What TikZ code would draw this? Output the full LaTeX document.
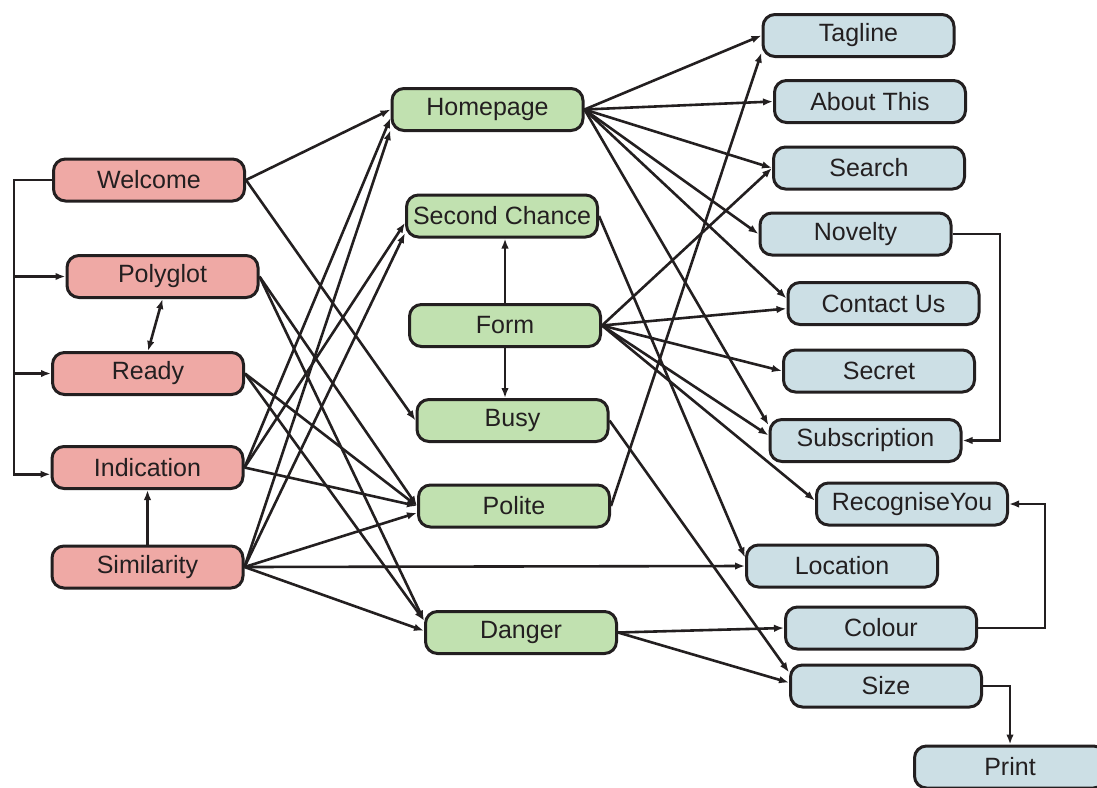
\documentclass[tikz,border=0pt]{standalone}
\usepackage{fontspec}
\setmainfont{Liberation Sans}
\usetikzlibrary{arrows.meta}
\definecolor{ink}{RGB}{35,31,32}
\definecolor{redfill}{RGB}{239,169,165}
\definecolor{greenfill}{RGB}{193,225,176}
\definecolor{bluefill}{RGB}{204,223,229}

\begin{document}
\begin{tikzpicture}[x=1pt,y=-1pt,
  box/.style={draw=ink, line width=3pt, rounded corners=12pt,
    minimum width=191pt, minimum height=42pt, inner sep=0pt,
    font=\fontsize{25}{30}\selectfont, text=ink},
  redbox/.style={box, fill=redfill},
  greenbox/.style={box, fill=greenfill},
  bluebox/.style={box, fill=bluefill},
  arr/.style={draw=ink, line width=2.6pt, -{Latex[length=10pt,width=7.5pt]}},
  biarr/.style={draw=ink, line width=2.6pt, {Latex[length=10pt,width=7.5pt]}-{Latex[length=10pt,width=7.5pt]}},
]
\useasboundingbox (0,0) rectangle (1097,787);

% left column
\node[redbox] (wel) at (149,180) {Welcome};
\node[redbox] (pol) at (162.5,276.5) {Polyglot};
\node[redbox] (rdy) at (148,373.5) {Ready};
\node[redbox] (ind) at (147.5,467.5) {Indication};
\node[redbox] (sim) at (147.5,567) {Similarity};

% middle column
\node[greenbox] (hp)   at (487.5,109.5) {Homepage};
\node[greenbox] (sc)   at (502,216) {Second Chance};
\node[greenbox] (form) at (505,325.5) {Form};
\node[greenbox] (busy) at (512.5,420.5) {Busy};
\node[greenbox] (plt)  at (514,506) {Polite};
\node[greenbox] (dng)  at (521,632.5) {Danger};

% right column
\node[bluebox] (tag) at (858.5,35.5) {Tagline};
\node[bluebox] (abt) at (870,101.5) {About This};
\node[bluebox] (srch) at (869,168) {Search};
\node[bluebox] (nov) at (855.5,234) {Novelty};
\node[bluebox] (cnt) at (883.5,303.5) {Contact Us};
\node[bluebox] (sec) at (879,371) {Secret};
\node[bluebox] (sub) at (865.5,440.5) {Subscription};
\node[bluebox] (ry)  at (912,504) {RecogniseYou};
\node[bluebox] (loc) at (842,566) {Location};
\node[bluebox] (col) at (881,628) {Colour};
\node[bluebox] (size) at (886,686) {Size};
\node[bluebox] (prt) at (1010,767) {Print};

% bus lines
\coordinate (lbus) at (14,0);
\coordinate (nbus) at (1000,0);
\coordinate (cbus) at (1045,0);

% Welcome fans out down the left bus
\draw[arr] (wel.west) -| (lbus |- ind.184) -- (ind.184);
\draw[arr] (lbus |- pol.west) -- (pol.west);
\draw[arr] (lbus |- rdy.west) -- (rdy.west);
\draw[biarr] (pol.south) -- (rdy.north);
\draw[arr] (sim.north) -- (ind.south);

% left to middle
\draw[arr] (wel.east) -- (hp.west);
\draw[arr] (wel.east) -- (busy.west);
\draw[arr] (pol.east) -- (plt.west);
\draw[arr] (pol.east) -- (dng.173);
\draw[arr] (rdy.east) -- (plt.west);
\draw[arr] (rdy.east) -- (dng.173);
\draw[arr] (ind.east) -- (hp.185);
\draw[arr] (ind.east) -- (sc.184);
\draw[arr] (ind.east) -- (plt.west);
\draw[arr] (sim.east) -- (hp.192);
\draw[arr] (sim.east) -- (sc.190);
\draw[arr] (sim.east) -- (plt.184);
\draw[arr] (sim.east) -- (loc.west);
\draw[arr] (sim.east) -- (dng.179);

% within the middle column
\draw[arr] (form.north) -- (form.north |- sc.south);
\draw[arr] (form.south) -- (form.south |- busy.north);

% middle to right
\draw[arr] (hp.east) -- (tag.west);
\draw[arr] (hp.east) -- (abt.west);
\draw[arr] (hp.east) -- (srch.west);
\draw[arr] (hp.east) -- (nov.west);
\draw[arr] (hp.east) -- (cnt.177);
\draw[arr] (hp.east) -- (sub.171);
\draw[arr] (sc.east) -- (loc.175);
\draw[arr] (form.east) -- (srch.west);
\draw[arr] (form.east) -- (cnt.183);
\draw[arr] (form.east) -- (sec.west);
\draw[arr] (form.east) -- (sub.177);
\draw[arr] (form.east) -- (ry.178);
\draw[arr] (busy.east) -- (size.172);
\draw[arr] (plt.east) -- (tag.190);
\draw[arr] (dng.east) -- (col.west);
\draw[arr] (dng.east) -- (size.178);

% elbows on the right
\draw[arr] (nov.east) -| (nbus |- sub.east) -- (sub.east);
\draw[arr] (col.east) -| (cbus |- ry.east) -- (ry.east);
\draw[arr] (size.east) -| (prt.north);
\end{tikzpicture}
\end{document}
